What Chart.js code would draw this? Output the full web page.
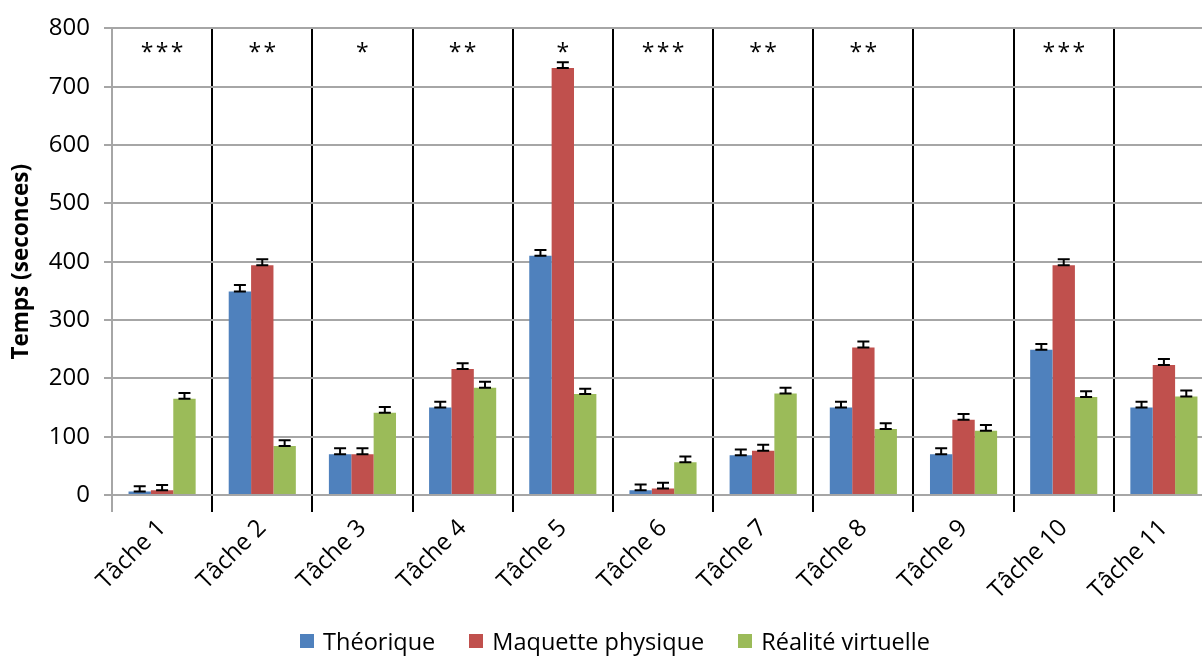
<!DOCTYPE html>
<html>
<head>
<meta charset="utf-8">
<script src="https://cdn.jsdelivr.net/npm/chart.js@4"></script>
<style>
  html, body { margin: 0; padding: 0; background: #fff; overflow: hidden; }
  #wrap { position: relative; width: 1230px; height: 657px; }
  #legend {
    position: absolute; left: 0; top: 625px; width: 1230px;
    display: flex; justify-content: center; align-items: center;
    font-family: "Open Sans"; font-size: 23.5px; color: #000;
  }
  #legend span.item { display: flex; align-items: center; margin: 0 17px; }
  #legend span.box { width: 14px; height: 14px; margin-right: 9px; display: inline-block; }
</style>
</head>
<body>
<div id="wrap">
  <canvas id="tachesChart" width="1230" height="657"></canvas>
  <div id="legend"></div>
</div>
<script>
// Data
const categories = ["Tâche 1", "Tâche 2", "Tâche 3", "Tâche 4", "Tâche 5", "Tâche 6",
  "Tâche 7", "Tâche 8", "Tâche 9", "Tâche 10", "Tâche 11"];
const theorique = [6, 349, 70, 150, 410, 8, 68, 150, 70, 249, 150];
const maquette = [8, 394, 70, 216, 732, 11, 76, 253, 129, 394, 223];
const realite = [165, 84, 141, 184, 173, 56, 174, 113, 110, 168, 169];
const errTheorique = [9, 11, 10, 10, 10, 10, 10, 10, 10, 10, 10];
const errMaquette = [9, 10, 10, 10, 10, 10, 10, 10, 10, 10, 10];
const errRealite = [10, 10, 10, 10, 9, 10, 10, 10, 10, 10, 10];
const stars = ["***", "**", "*", "**", "*", "***", "**", "**", "", "***", ""];
const yTicks = [0, 100, 200, 300, 400, 500, 600, 700, 800];

const GRAY = "#a6a6a6";
const FONT = "Open Sans";

// Error bars drawn from the bar top upward
const errorBars = {
  id: "errorBars",
  afterDatasetsDraw(chart) {
    const ctx = chart.ctx;
    const y = chart.scales.y;
    ctx.save();
    ctx.strokeStyle = "#000";
    ctx.lineWidth = 2;
    chart.data.datasets.forEach((ds, di) => {
      chart.getDatasetMeta(di).data.forEach((bar, i) => {
        const top = y.getPixelForValue(ds.data[i] + ds.errors[i]);
        const bottom = y.getPixelForValue(ds.data[i]);
        ctx.beginPath();
        ctx.moveTo(bar.x, top);
        ctx.lineTo(bar.x, bottom);
        ctx.moveTo(bar.x - 6, top);
        ctx.lineTo(bar.x + 6, top);
        ctx.moveTo(bar.x - 6, bottom);
        ctx.lineTo(bar.x + 6, bottom);
        ctx.stroke();
      });
    });
    ctx.restore();
  },
};

// Significance stars above each group
const starLabels = {
  id: "starLabels",
  afterDraw(chart) {
    const ctx = chart.ctx;
    const x = chart.scales.x;
    const y = chart.scales.y;
    ctx.save();
    ctx.fillStyle = "#000";
    ctx.font = "23px '" + FONT + "'";
    ctx.textAlign = "center";
    ctx.textBaseline = "alphabetic";
    stars.forEach((s, i) => {
      const cx = x.getPixelForValue(i);
      for (let k = 0; k < s.length; k++) {
        ctx.fillText("*", cx + (k - (s.length - 1) / 2) * 15, y.getPixelForValue(745));
      }
    });
    ctx.restore();
  },
};

const ctx = document.getElementById("tachesChart").getContext("2d");
const tachesChart = new Chart(ctx, {
  type: "bar",
  data: {
    labels: categories,
    datasets: [
      { label: "Théorique", data: theorique, errors: errTheorique, backgroundColor: "#4f81bd" },
      { label: "Maquette physique", data: maquette, errors: errMaquette, backgroundColor: "#c0504d" },
      { label: "Réalité virtuelle", data: realite, errors: errRealite, backgroundColor: "#9bbb59" },
    ],
  },
  options: {
    responsive: false,
    animation: false,
    barPercentage: 1,
    categoryPercentage: 0.67,
    layout: { padding: { left: 0, right: 16, top: 24, bottom: 22 } },
    scales: {
      x: {
        grid: {
          offset: true,
          color: (c) => (c.index === 0 ? GRAY : "#000"),
          lineWidth: 2,
          tickLength: 17,
        },
        border: { color: GRAY, width: 2 },
        ticks: {
          maxRotation: 45,
          minRotation: 45,
          padding: 2,
          color: "#000",
          font: { family: FONT, size: 24 },
        },
        afterFit: (s) => { s.height = 140; },
      },
      y: {
        min: 0,
        max: 800,
        afterBuildTicks: (s) => { s.ticks = yTicks.map((v) => ({ value: v })); },
        ticks: { padding: 14, color: "#000", font: { family: FONT, size: 24 } },
        grid: { color: GRAY, lineWidth: 2, tickLength: 8 },
        border: { color: GRAY, width: 2 },
        title: {
          display: true,
          text: "Temps (seconces)",
          color: "#000",
          font: { family: FONT, size: 22.5, weight: "bold" },
          padding: { top: 8, bottom: 0 },
        },
        afterFit: (s) => { s.width = 112; },
      },
    },
    plugins: {
      legend: { display: false },
      tooltip: { enabled: false },
    },
  },
  plugins: [errorBars, starLabels],
});

// HTML legend
const legend = document.getElementById("legend");
tachesChart.data.datasets.forEach((ds) => {
  const item = document.createElement("span");
  item.className = "item";
  const box = document.createElement("span");
  box.className = "box";
  box.style.background = ds.backgroundColor;
  item.appendChild(box);
  item.appendChild(document.createTextNode(ds.label));
  legend.appendChild(item);
});
</script>
</body>
</html>
